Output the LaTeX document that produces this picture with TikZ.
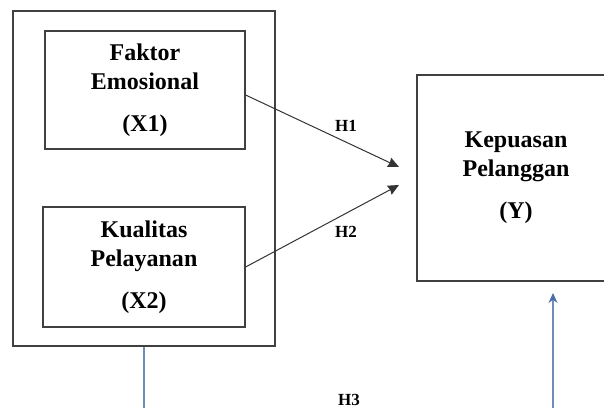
\documentclass[tikz,border=0pt]{standalone}
\usepackage{fontspec}
\setmainfont{Liberation Serif}
\usetikzlibrary{arrows.meta}
\definecolor{hline}{RGB}{112,140,184}
\definecolor{hhead}{RGB}{74,110,170}

\begin{document}
\begin{tikzpicture}[x=0.5pt,y=-0.5pt,
  varbox/.style={draw=black!75, line width=0.6pt, align=center, inner sep=0pt,
    font=\bfseries\fontsize{12}{14.5}\selectfont},
  hyp/.style={inner sep=0pt, font=\bfseries\fontsize{8.5}{10}\selectfont},
  hyparrow/.style={draw=black!80, line width=0.5pt, -{Stealth[length=5.5pt,width=5pt,inset=0.5pt]}},
  h3line/.style={draw=hline, line width=0.6pt}]
\useasboundingbox (0,0) rectangle (604,407);
\clip (0,0) rectangle (604,407);

% variable boxes
\node[varbox, minimum width=131pt, minimum height=167.5pt] (outer) at (144,178.5) {};
\node[varbox, minimum width=100pt, minimum height=59pt] (x1) at (145,90) {Faktor\\Emosional\\[6.5pt](X1)};
\node[varbox, minimum width=101pt, minimum height=60pt] (x2) at (144,267) {Kualitas\\Pelayanan\\[6.5pt](X2)};
\node[varbox, minimum width=99pt, minimum height=103pt, text depth=2.5pt] (y) at (516,178) {Kepuasan\\Pelanggan\\[6.5pt](Y)};

% arrow ends
\coordinate (h1tip) at (399,167);
\coordinate (h2tip) at (399,185);
\coordinate (h3drop) at (144,415);
\coordinate (h3foot) at (553,415);
\coordinate (h3tip) at (553,293);

\draw[hyparrow] ([yshift=-2.5pt]x1.east) -- (h1tip);
\draw[hyparrow] (x2.east) -- (h2tip);
\draw[h3line] (outer.south) -- (h3drop);
\draw[h3line, -{Stealth[length=5pt,width=4.5pt,color=hhead]}] (h3foot) -- (h3tip);

% hypothesis labels
\node[hyp] (h1) at (346,126) {H1};
\node[hyp] (h2) at (346,232) {H2};
\node[hyp, anchor=north] (h3) at (349,394) {H3};
\end{tikzpicture}
\end{document}
